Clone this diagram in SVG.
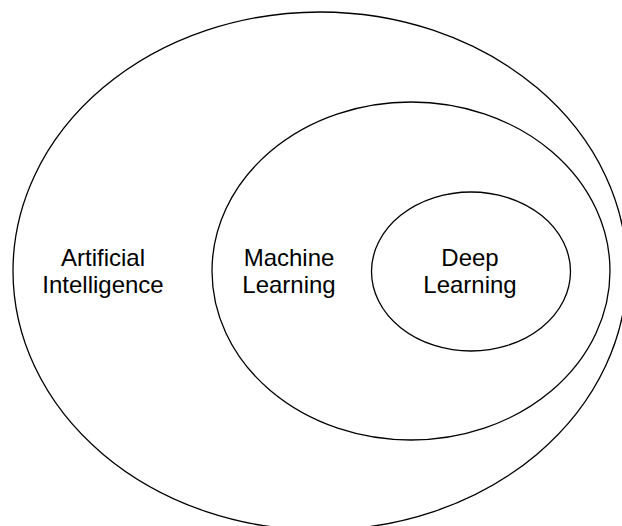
<svg xmlns="http://www.w3.org/2000/svg" width="622" height="526" viewBox="0 0 622 526">
<style>
.e{fill:none;stroke:#000;stroke-width:1.3}
.t{font-family:"Liberation Sans",Arial,sans-serif;font-size:24px;fill:#000;text-anchor:middle}
</style>
<rect width="622" height="526" fill="#fff"/>
<g id="ai">
<ellipse class="e" cx="320" cy="271" rx="307" ry="259"/>
<text class="t" x="103" y="265.5">Artificial</text>
<text class="t" x="103" y="293">Intelligence</text>
</g>
<g id="ml">
<ellipse class="e" cx="411" cy="271" rx="199" ry="169"/>
<text class="t" x="289" y="265.5">Machine</text>
<text class="t" x="289" y="293">Learning</text>
</g>
<g id="dl">
<ellipse class="e" cx="471" cy="271.5" rx="99.5" ry="79.5"/>
<text class="t" x="470" y="265.5">Deep</text>
<text class="t" x="470" y="293">Learning</text>
</g>
<g id="connectors"/>
</svg>
